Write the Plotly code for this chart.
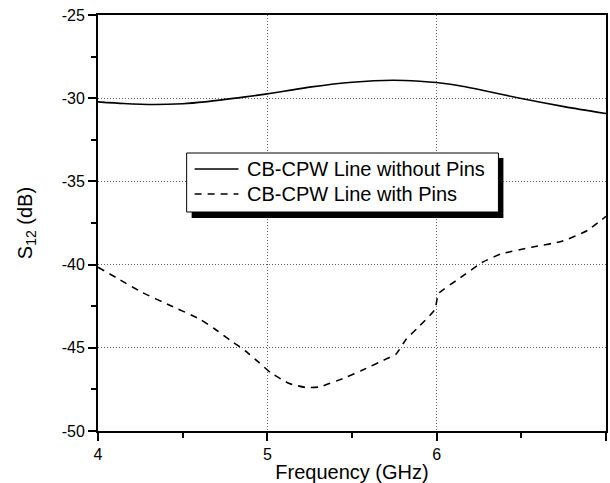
import plotly.graph_objects as go

# Data
freq_nopins = [4.0, 4.15, 4.33, 4.5, 4.63, 4.87, 5.0, 5.26, 5.5, 5.74, 5.9, 6.0, 6.15, 6.27, 6.5, 6.76, 7.0]
s12_nopins = [-30.22, -30.32, -30.38, -30.33, -30.22, -29.92, -29.74, -29.32, -29.04, -28.92, -28.98, -29.06, -29.28, -29.52, -30.02, -30.52, -30.92]

freq_pins = [4.0, 4.11, 4.26, 4.43, 4.6, 4.69, 4.78, 4.87, 4.95, 5.02, 5.13, 5.23, 5.31, 5.46, 5.56,
             5.70, 5.76, 5.82, 5.89, 5.99, 6.01, 6.13, 6.27, 6.38, 6.56, 6.74, 6.89, 7.0]
s12_pins = [-40.16, -40.8, -41.67, -42.47, -43.27, -43.87, -44.54, -45.18, -45.88, -46.5, -47.15, -47.39,
            -47.35, -46.79, -46.35, -45.68, -45.38, -44.48, -43.78, -42.7, -41.75, -40.86, -39.86, -39.36,
            -38.96, -38.6, -37.95, -37.1]

name_nopins = "CB-CPW Line without Pins"
name_pins = "CB-CPW Line with Pins"

x_range = [4, 7]
y_range = [-50, -25]
x_ticks = [4, 5, 6, 7]
x_ticklabels = ["4", "5", "6", "7"]
y_ticks = [-50, -45, -40, -35, -30, -25]
y_ticklabels = ["-50", "-45", "-40", "-35", "-30", "-25"]

FONT = "Liberation Sans, Arial, sans-serif"
DASH = "7px,6px"

fig = go.Figure()
fig.add_trace(go.Scatter(x=freq_nopins, y=s12_nopins, mode="lines", name=name_nopins,
                         line=dict(color="black", width=1.6, shape="spline", smoothing=0.6)))
fig.add_trace(go.Scatter(x=freq_pins, y=s12_pins, mode="lines", name=name_pins,
                         line=dict(color="black", width=1.6, dash=DASH, shape="spline", smoothing=0.4)))

L, T, W, H = 98, 15, 510, 416
def px_x(p):
    return (p - L) / W
def px_y(p):
    return 1 - (p - T) / H

# Legend box (Origin style, with drop shadow)
box = dict(type="rect", xref="paper", yref="paper", layer="above")
fig.add_shape(**box, x0=px_x(192), x1=px_x(505), y0=px_y(218), y1=px_y(158),
              fillcolor="black", line=dict(width=0))
fig.add_shape(**box, x0=px_x(187), x1=px_x(500), y0=px_y(212), y1=px_y(153),
              fillcolor="white", line=dict(color="black", width=1))
entries = [(name_nopins, 169, "solid"), (name_pins, 194, DASH)]
for text, yc, dash in entries:
    fig.add_shape(type="line", xref="paper", yref="paper", layer="above",
                  x0=px_x(195), x1=px_x(239), y0=px_y(yc), y1=px_y(yc),
                  line=dict(color="black", width=1.6, dash=dash))
    fig.add_annotation(text=text, xref="paper", yref="paper", x=px_x(246), y=px_y(yc),
                       xanchor="left", yanchor="middle", showarrow=False,
                       font=dict(size=20, family=FONT, color="black"))

fig.update_layout(
    width=610, height=483,
    margin=dict(l=L, r=610 - L - W, t=T, b=483 - T - H),
    paper_bgcolor="white", plot_bgcolor="white",
    font=dict(family=FONT, color="black", size=16),
    showlegend=False,
    xaxis=dict(range=x_range, tickvals=x_ticks, ticktext=x_ticklabels, ticks="outside", ticklen=8, tickwidth=1.5,
               tickcolor="black", showline=True, linewidth=2, linecolor="black", mirror=True,
               showgrid=True, gridcolor="#666666", griddash="1px,2px", gridwidth=1,
               minor=dict(dtick=0.5, tick0=4, ticks="outside", ticklen=5, tickwidth=1.5, tickcolor="black", showgrid=False),
               tickfont=dict(size=16), zeroline=False,
               title=dict(text="Frequency (GHz)", font=dict(size=20), standoff=4)),
    yaxis=dict(range=y_range, tickvals=y_ticks, ticktext=y_ticklabels, ticks="outside", ticklen=8, tickwidth=1.5,
               tickcolor="black", showline=True, linewidth=2, linecolor="black", mirror=True,
               showgrid=True, gridcolor="#666666", griddash="1px,2px", gridwidth=1,
               minor=dict(dtick=2.5, tick0=-50, ticks="outside", ticklen=5, tickwidth=1.5, tickcolor="black", showgrid=False),
               tickfont=dict(size=16), zeroline=False,
               title=dict(text="S<sub>12</sub> (dB)", font=dict(size=20), standoff=24)),
    xaxis2=dict(range=x_range, overlaying="x", side="top", anchor="y", tickvals=x_ticks,
                ticks="inside", ticklen=6, tickwidth=1.5, tickcolor="black", showticklabels=False,
                showgrid=False, showline=False, zeroline=False,
                minor=dict(dtick=0.5, tick0=4, ticks="inside", ticklen=5, tickwidth=1.5, tickcolor="black")),
    yaxis2=dict(range=y_range, overlaying="y", side="right", anchor="x", tickvals=y_ticks,
                ticks="inside", ticklen=6, tickwidth=1.5, tickcolor="black", showticklabels=False,
                showgrid=False, showline=False, zeroline=False,
                minor=dict(dtick=2.5, tick0=-50, ticks="inside", ticklen=5, tickwidth=1.5, tickcolor="black")),
)

fig.write_html("out.html")
